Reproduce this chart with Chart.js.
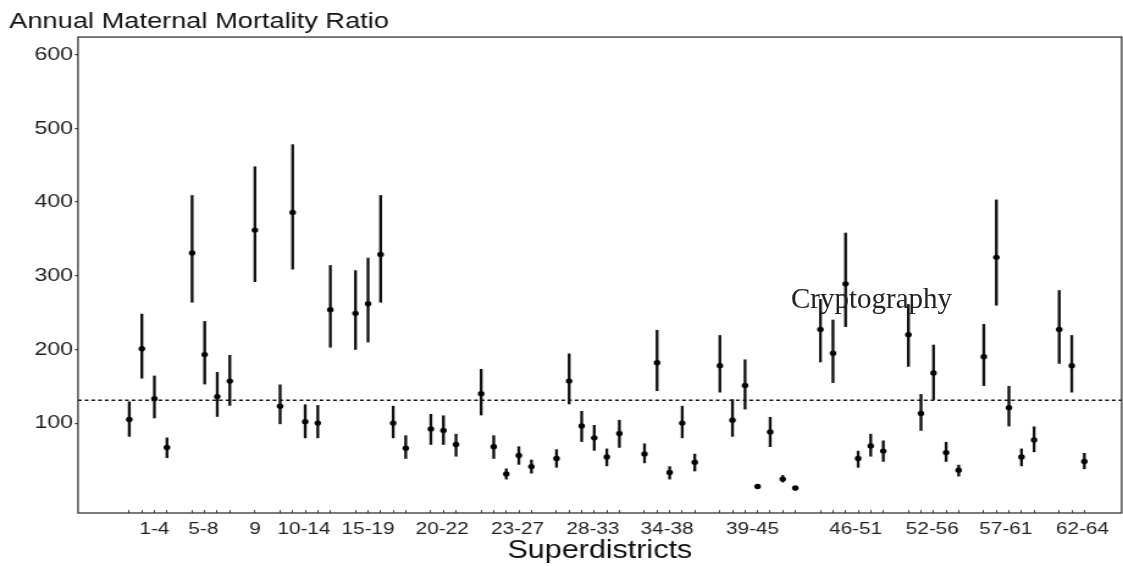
<!DOCTYPE html>
<html>
<head>
<meta charset="utf-8">
<script src="https://cdn.jsdelivr.net/npm/chart.js@4.4.0/dist/chart.umd.min.js"></script>
<style>
  body { margin: 0; background: #fff; }
  #wrap { position: relative; width: 1123px; height: 566px; }
  #grafico { display: block; }
  #marca { position: absolute; left: 791px; top: 284px; font-family: 'Liberation Serif', 'Times New Roman', serif; font-size: 29px; line-height: 1; color: #222; white-space: nowrap; }
</style>
</head>
<body>
<div id="wrap">
  <!-- the original picture is stretched sideways, so the canvas is drawn narrower and widened by css -->
  <canvas id="grafico" width="920" height="566" style="width:1123px;height:566px"></canvas>
  <div id="marca">Cryptography</div>
</div>
<script>
// superdistrict groups shown on the x axis
const groupLabels = ['1-4', '5-8', '9', '10-14', '15-19', '20-22', '23-27', '28-33', '34-38', '39-45', '46-51', '52-56', '57-61', '62-64'];
// where each group label sits, counted in districts from the first district of the group
const labelOffsets = [2, 0.9, 0, 1.9, 1, 0.9, 2.9, 2.9, 1.8, 2.6, 2.8, 1.9, 1.75, 1.85];

// annual maternal mortality ratio per superdistrict (1..64), with lower and upper limits
const mmr = [105, 201, 133, 67, 331, 193, 136, 157, 362, 123, 386, 102, 100, 254, 249, 262, 329, 100, 66,
    92, 90, 71, 140, 68, 31, 56, 41, 52, 157, 96, 80, 54, 86, 58, 182, 33, 100, 47,
    178, 104, 151, 14, 88, 24, 12, 227, 195, 289, 52, 69, 62, 220, 113, 168, 60, 36, 190, 325, 121, 54, 77, 227, 178, 48];
const lower = [82, 161, 107, 53, 264, 153, 109, 124, 292, 99, 309, 80, 80, 203, 200, 210, 264, 80, 52,
    71, 71, 55, 111, 52, 24, 44, 32, 40, 126, 75, 63, 42, 67, 46, 144, 24, 80, 35,
    142, 82, 119, 12, 68, 20, 9, 183, 155, 231, 40, 55, 48, 177, 90, 132, 48, 28, 151, 260, 96, 42, 61, 181, 142, 38];
const upper = [129, 248, 164, 80, 409, 238, 169, 192, 448, 152, 478, 125, 124, 314, 307, 324, 409, 123, 83,
    112, 110, 85, 173, 83, 38, 68, 50, 64, 194, 116, 97, 65, 104, 72, 226, 41, 123, 58,
    219, 132, 186, 16, 108, 29, 14, 268, 240, 358, 62, 85, 76, 261, 139, 206, 74, 43, 234, 403, 150, 65, 95, 280, 219, 59];

// overall ratio (dashed line)
const overallRatio = 131;

// axis limits and y ticks
const xMin = -4.08;
const xMax = 78.97;
const yMin = -22;
const yMax = 624;
const yTicks = [100, 200, 300, 400, 500, 600];

window.onload = () => {
    showChart();
}

function showChart() {
    // each group takes as many places as it has districts, with one empty place between groups
    const groupSizes = groupLabels.map(g => {
        const p = g.split('-').map(Number);
        return p.length > 1 ? p[1] - p[0] + 1 : 1;
    });
    const positions = [];
    const groupStart = [];
    let pos = 0;
    groupSizes.forEach(n => {
        groupStart.push(pos);
        for (let i = 0; i < n; i++) positions.push(pos + i);
        pos += n + 1;
    });
    const labelPositions = groupLabels.map((g, i) => groupStart[i] + labelOffsets[i]);

    const points = mmr.map((v, i) => ({ x: positions[i], y: v }));
    const bars = mmr.map((v, i) => ({ x: positions[i], y: [lower[i], upper[i]] }));
    const refLine = [{ x: xMin, y: overallRatio }, { x: xMax, y: overallRatio }];

    // frame around the panel
    const frame = {
        id: 'frame',
        afterDatasetsDraw(chart) {
            const { ctx, chartArea: a } = chart;
            ctx.save();
            ctx.strokeStyle = '#333';
            ctx.lineWidth = 1.3;
            ctx.strokeRect(a.left, a.top, a.right - a.left, a.bottom - a.top);
            ctx.restore();
        }
    };

    Chart.defaults.font.family = "'Liberation Sans', Arial, sans-serif";

    const ctx = document.getElementById('grafico');
    new Chart(ctx, {
        data: {
            datasets: [
                {
                    type: 'scatter',
                    data: points,
                    backgroundColor: '#000',
                    borderWidth: 0,
                    pointRadius: 2.7,
                    order: 0
                },
                {
                    type: 'bar',
                    data: bars,
                    backgroundColor: '#111',
                    borderWidth: 0,
                    barThickness: 1.7,
                    order: 1
                },
                {
                    type: 'line',
                    data: refLine,
                    borderColor: '#111',
                    borderWidth: 1.4,
                    borderDash: [3, 2.5],
                    pointRadius: 0,
                    order: 2
                }
            ]
        },
        plugins: [frame],
        options: {
            responsive: false,
            animation: false,
            devicePixelRatio: 1,
            layout: { autoPadding: false, padding: { left: 7.6, right: 1.1, top: 0, bottom: 0 } },
            plugins: {
                legend: { display: false },
                tooltip: { enabled: false },
                title: {
                    display: true,
                    text: 'Annual Maternal Mortality Ratio',
                    align: 'start',
                    color: '#111',
                    font: { size: 22.3, weight: 'normal' },
                    padding: { top: 8, bottom: 2.3 }
                }
            },
            scales: {
                x: {
                    type: 'linear',
                    position: 'bottom',
                    offset: false,
                    min: xMin,
                    max: xMax,
                    afterBuildTicks: scale => {
                        const t = positions.map(p => ({ value: p, group: -1 }));
                        labelPositions.forEach((p, i) => t.push({ value: p, group: i }));
                        t.sort((a, b) => a.value - b.value);
                        scale.ticks = t;
                    },
                    afterFit: scale => {
                        scale.height = 53;
                        scale.paddingLeft = 0;
                        scale.paddingRight = 0;
                    },
                    ticks: {
                        autoSkip: false,
                        maxRotation: 0,
                        minRotation: 0,
                        padding: 9,
                        color: '#222',
                        font: { size: 17 },
                        callback: (value, index, ticks) => {
                            const g = ticks[index].group;
                            return g >= 0 ? groupLabels[g] : '';
                        }
                    },
                    grid: {
                        offset: false,
                        drawOnChartArea: false,
                        drawTicks: true,
                        tickLength: -3,
                        lineWidth: 1,
                        color: c => (c.tick && c.tick.group >= 0) ? 'rgba(0,0,0,0)' : '#444'
                    },
                    border: { display: false },
                    title: {
                        display: true,
                        text: 'Superdistricts',
                        color: '#111',
                        font: { size: 25 },
                        padding: { top: 0, bottom: 0 }
                    }
                },
                y: {
                    min: yMin,
                    max: yMax,
                    afterBuildTicks: scale => {
                        scale.ticks = yTicks.map(v => ({ value: v }));
                    },
                    afterFit: scale => { scale.width = 56.3; },
                    ticks: {
                        padding: 1.5,
                        color: '#222',
                        font: { size: 19 }
                    },
                    grid: {
                        drawOnChartArea: false,
                        drawTicks: true,
                        tickLength: 2.5,
                        lineWidth: 1.2,
                        color: '#333'
                    },
                    border: { display: false }
                }
            }
        }
    });
}
</script>
</body>
</html>
